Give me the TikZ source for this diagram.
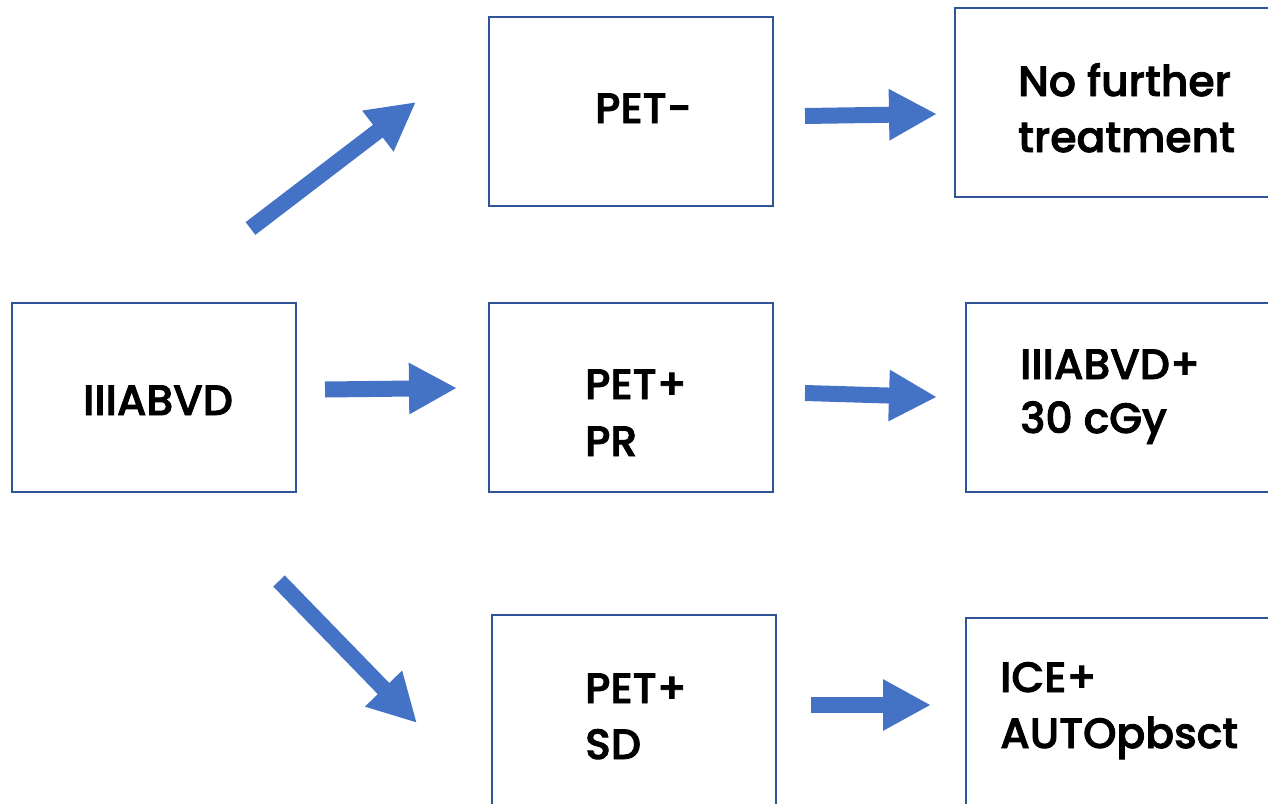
\documentclass[tikz,border=0pt]{standalone}
\usepackage{fontspec}
\setmainfont{Poppins}[UprightFont=* Medium, UprightFeatures={FakeBold=2}]
\usetikzlibrary{arrows.meta}
\definecolor{arrowblue}{HTML}{4472C4}
\definecolor{boxblue}{HTML}{2F5597}
\tikzset{
  box/.style={draw=boxblue, line width=2pt, fill=white, inner sep=0pt},
  lbl/.style={anchor=base west, inner sep=0pt, font=\fontsize{42.5}{58}\selectfont, text=black},
  blockarrow/.style={draw=arrowblue, line width=16pt, -{Triangle[length=48pt,width=48pt]}}
}
\begin{document}
\begin{tikzpicture}[x=1pt,y=-1pt]
\useasboundingbox (0,0) rectangle (1268,803);
\clip (0,0) rectangle (1268,803);
% boxes
\node[box, minimum width=284pt, minimum height=189pt] (start) at (154,397.5) {};
\node[box, minimum width=284pt, minimum height=189pt] (petneg) at (631,111.5) {};
\node[box, minimum width=330pt, minimum height=189pt] (nofurther) at (1120,102.5) {};
\node[box, minimum width=284pt, minimum height=189pt] (petpr) at (631,397.5) {};
\node[box, minimum width=330pt, minimum height=189pt] (abvd30) at (1131,397.5) {};
\node[box, minimum width=284pt, minimum height=220pt] (petsd) at (634,725) {};
\node[box, minimum width=330pt, minimum height=220pt] (ice) at (1131,728) {};
% labels
\node[lbl] (t0) at (83,415) {IIIABVD};
\node[lbl] (t1) at (595,123) {PET-};
\node[lbl] (t2a) at (1018,96) {No further};
\node[lbl] (t2b) at (1018,152) {treatment};
\node[lbl] (t3a) at (585,399) {PET+};
\node[lbl] (t3b) at (585,456) {PR};
\node[lbl] (t4a) at (1020,379) {IIIABVD+};
\node[lbl] (t4b) at (1020,433) {30 cGy};
\node[lbl] (t5a) at (585,703) {PET+};
\node[lbl] (t5b) at (585,759) {SD};
\node[lbl] (t6a) at (1000,692) {ICE+};
\node[lbl] (t6b) at (1000,748) {AUTOpbsct};
% arrow end points
\coordinate (a1s) at (250.5,228.5); \coordinate (a1e) at (416,102);
\coordinate (a2s) at (325,389.5);   \coordinate (a2e) at (457,388);
\coordinate (a3s) at (279,581);     \coordinate (a3e) at (417,723);
\coordinate (a4s) at (805,116);     \coordinate (a4e) at (937,114);
\coordinate (a5s) at (805,393);     \coordinate (a5e) at (937,397);
\coordinate (a6s) at (811,705);     \coordinate (a6e) at (931,705);
\foreach \i in {1,...,6} \draw[blockarrow] (a\i s) -- (a\i e);
\end{tikzpicture}
\end{document}
